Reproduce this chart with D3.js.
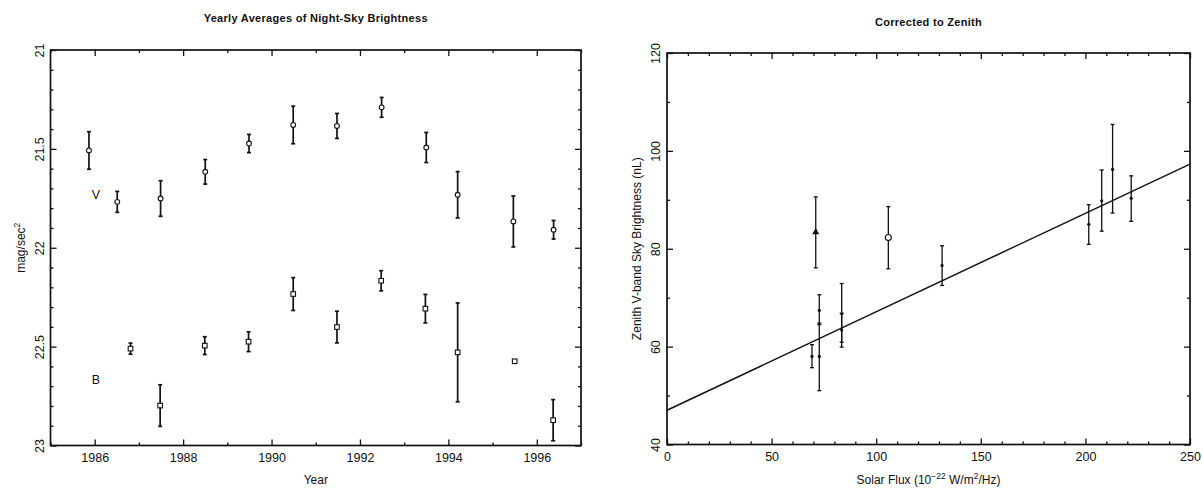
<!DOCTYPE html>
<html>
<head>
<meta charset="utf-8">
<script src="https://cdn.jsdelivr.net/npm/d3@7"></script>
<style>
  html, body { margin: 0; padding: 0; background: #fff; }
  svg { display: block; }
  text { font-family: "Liberation Sans", Arial, sans-serif; fill: #111; }
</style>
</head>
<body>
<svg id="chart" width="1203" height="488"></svg>
<script>
// Yearly averages (mag/sec^2) and their uncertainties
const vYear = [1985.87, 1986.51, 1987.49, 1988.50, 1989.49, 1990.49, 1991.48, 1992.49, 1993.50, 1994.21, 1995.47, 1996.38];
const vMag  = [21.508, 21.768, 21.751, 21.616, 21.473, 21.379, 21.384, 21.290, 21.493, 21.732, 21.867, 21.909];
const vErr  = [0.095, 0.053, 0.090, 0.062, 0.046, 0.095, 0.063, 0.050, 0.076, 0.117, 0.129, 0.047];

const bYear = [1986.81, 1987.48, 1988.49, 1989.48, 1990.49, 1991.48, 1992.48, 1993.48, 1994.21, 1995.50, 1996.37];
const bMag  = [22.510, 22.798, 22.495, 22.475, 22.234, 22.401, 22.167, 22.308, 22.529, 22.574, 22.872];
const bErr  = [0.028, 0.105, 0.045, 0.050, 0.083, 0.080, 0.051, 0.072, 0.250, 0, 0.104];

const yearTicks = [1986, 1988, 1990, 1992, 1994, 1996];
const magTicks = [21, 21.5, 22, 22.5, 23];

// Zenith-corrected V-band brightness (nL) against solar flux
const flux   = [69.3, 71.1, 72.8, 72.8, 83.5, 83.5, 105.8, 131.5, 201.6, 207.8, 213.0, 221.9];
const bright = [58.0, 83.4, 67.4, 58.0, 66.7, 63.4, 82.3, 76.6, 85.0, 89.8, 96.2, 90.3];
const brightLo = [55.7, 76.1, 64.5, 51.0, 60.9, 59.9, 75.9, 72.5, 80.9, 83.6, 87.3, 85.6];
const brightHi = [60.4, 90.6, 70.6, 64.8, 72.9, 66.8, 88.6, 80.6, 89.0, 96.1, 105.4, 94.9];
const marker = ["dot", "triangle", "dot", "dot", "dot", "dot", "circle", "dot", "dot", "dot", "dot", "dot"];

const fluxTicks = [0, 50, 100, 150, 200, 250];
const brightTicks = [40, 60, 80, 100, 120];

// Linear fit
const fitIntercept = 47.0;
const fitSlope = 0.2012;

const svg = d3.select("#chart");

// Draws a boxed frame with inward ticks on all four sides
function frame(g, x, y, xMajor, xMinor, yMajor, yMinor, xFmt, yFmt) {
  const [x0, x1] = x.range();
  const [y0, y1] = y.range(); // y0 bottom, y1 top
  const majorLen = 6, minorLen = 3;

  const bottom = g.append("g").attr("transform", `translate(0,${y0})`)
    .call(d3.axisBottom(x).tickValues(xMajor).tickSize(-majorLen).tickFormat(xFmt));
  bottom.selectAll(".tick text").attr("y", 16).attr("dy", 0);
  g.append("g").attr("transform", `translate(0,${y0})`)
    .call(d3.axisBottom(x).tickValues(xMinor).tickSize(-minorLen).tickFormat(""));
  g.append("g").attr("transform", `translate(0,${y1})`)
    .call(d3.axisTop(x).tickValues(xMajor).tickSize(-majorLen).tickFormat(""));
  g.append("g").attr("transform", `translate(0,${y1})`)
    .call(d3.axisTop(x).tickValues(xMinor).tickSize(-minorLen).tickFormat(""));

  const left = g.append("g").attr("transform", `translate(${x0},0)`)
    .call(d3.axisLeft(y).tickValues(yMajor).tickSize(-majorLen).tickFormat(yFmt));
  left.selectAll(".tick text")
    .attr("transform", "rotate(-90)")
    .attr("x", 0).attr("y", -7).attr("dy", 0)
    .attr("text-anchor", "middle");
  g.append("g").attr("transform", `translate(${x0},0)`)
    .call(d3.axisLeft(y).tickValues(yMinor).tickSize(-minorLen).tickFormat(""));
  g.append("g").attr("transform", `translate(${x1},0)`)
    .call(d3.axisRight(y).tickValues(yMajor).tickSize(-majorLen).tickFormat(""));
  g.append("g").attr("transform", `translate(${x1},0)`)
    .call(d3.axisRight(y).tickValues(yMinor).tickSize(-minorLen).tickFormat(""));

  g.selectAll(".domain").remove();
  g.selectAll(".tick line").attr("stroke", "#111").attr("stroke-width", 1.3);
  g.selectAll(".tick text").attr("font-size", 12.5).attr("fill", "#111")
    .attr("font-family", "'Liberation Sans', Arial, sans-serif");

  g.append("rect")
    .attr("x", x0).attr("y", y1)
    .attr("width", x1 - x0).attr("height", y0 - y1)
    .attr("fill", "none").attr("stroke", "#111").attr("stroke-width", 1.7);
}

function errorBar(g, cx, yLo, yHi, cap, width) {
  g.append("line").attr("x1", cx).attr("x2", cx).attr("y1", yLo).attr("y2", yHi)
    .attr("stroke", "#111").attr("stroke-width", width);
  [yLo, yHi].forEach(yy => g.append("line")
    .attr("x1", cx - cap).attr("x2", cx + cap).attr("y1", yy).attr("y2", yy)
    .attr("stroke", "#111").attr("stroke-width", width));
}

/* ---------- Left panel: yearly averages ---------- */
const xL = d3.scaleLinear().domain([1985, 1997]).range([50.5, 581]);
const yL = d3.scaleLinear().domain([23, 21]).range([445.5, 50]);
const gL = svg.append("g");

frame(gL, xL, yL,
  yearTicks, d3.range(1985, 1998, 1).filter(v => !yearTicks.includes(v)),
  magTicks, d3.range(210, 231, 1).map(v => v / 10).filter(v => !magTicks.includes(v)),
  d3.format("d"), d => String(d));

const gV = gL.append("g");
vYear.forEach((yr, i) => {
  const cx = xL(yr);
  if (vErr[i] > 0) errorBar(gV, cx, yL(vMag[i] - vErr[i]), yL(vMag[i] + vErr[i]), 2, 1.7);
  gV.append("circle").attr("cx", cx).attr("cy", yL(vMag[i])).attr("r", 2.4)
    .attr("fill", "#fff").attr("stroke", "#111").attr("stroke-width", 1.1);
});

const gB = gL.append("g");
bYear.forEach((yr, i) => {
  const cx = xL(yr);
  if (bErr[i] > 0) errorBar(gB, cx, yL(bMag[i] - bErr[i]), yL(bMag[i] + bErr[i]), 2, 1.7);
  gB.append("rect").attr("x", cx - 2.3).attr("y", yL(bMag[i]) - 2.3)
    .attr("width", 4.6).attr("height", 4.6)
    .attr("fill", "#fff").attr("stroke", "#111").attr("stroke-width", 1.1);
});

gL.append("text").attr("x", xL(1986.03)).attr("y", yL(21.73) + 4.5)
  .attr("text-anchor", "middle").attr("font-size", 12.5).text("V");
gL.append("text").attr("x", xL(1986.03)).attr("y", yL(22.665) + 4.5)
  .attr("text-anchor", "middle").attr("font-size", 12.5).text("B");

gL.append("text").attr("x", (xL.range()[0] + xL.range()[1]) / 2).attr("y", 22)
  .attr("text-anchor", "middle").attr("font-size", 11).attr("font-weight", "bold")
  .attr("letter-spacing", 0.3)
  .text("Yearly Averages of Night-Sky Brightness");
gL.append("text").attr("x", (xL.range()[0] + xL.range()[1]) / 2).attr("y", 484)
  .attr("text-anchor", "middle").attr("font-size", 12).text("Year");

const magLabel = gL.append("text")
  .attr("transform", `translate(25,${(yL.range()[0] + yL.range()[1]) / 2}) rotate(-90)`)
  .attr("text-anchor", "middle").attr("font-size", 12);
magLabel.append("tspan").text("mag/sec");
magLabel.append("tspan").attr("font-size", 8.5).attr("dy", -5).text("2");

/* ---------- Right panel: corrected to zenith ---------- */
const xR = d3.scaleLinear().domain([0, 250]).range([667, 1190]);
const yR = d3.scaleLinear().domain([40, 120]).range([444.5, 53]);
const gR = svg.append("g");

frame(gR, xR, yR,
  fluxTicks, d3.range(0, 251, 10).filter(v => !fluxTicks.includes(v)),
  brightTicks, d3.range(40, 121, 10).filter(v => !brightTicks.includes(v)),
  d3.format("d"), d3.format("d"));

// Fit line across the full flux range
const fitLine = d3.line().x(d => xR(d)).y(d => yR(fitIntercept + fitSlope * d));
gR.append("path").datum(xR.domain())
  .attr("d", fitLine).attr("fill", "none").attr("stroke", "#111").attr("stroke-width", 1.5);

const gP = gR.append("g");
flux.forEach((f, i) => {
  const cx = xR(f);
  errorBar(gP, cx, yR(brightLo[i]), yR(brightHi[i]), 2, 1.3);
  const cy = yR(bright[i]);
  if (marker[i] === "triangle") {
    gP.append("path").attr("transform", `translate(${cx},${cy})`)
      .attr("d", d3.symbol(d3.symbolTriangle, 22)).attr("fill", "#111");
  } else if (marker[i] === "circle") {
    gP.append("circle").attr("cx", cx).attr("cy", cy).attr("r", 3)
      .attr("fill", "#fff").attr("stroke", "#111").attr("stroke-width", 1.1);
  } else {
    gP.append("circle").attr("cx", cx).attr("cy", cy).attr("r", 1.6).attr("fill", "#111");
  }
});

gR.append("text").attr("x", (xR.range()[0] + xR.range()[1]) / 2).attr("y", 26)
  .attr("text-anchor", "middle").attr("font-size", 11).attr("font-weight", "bold")
  .attr("letter-spacing", 0.3)
  .text("Corrected to Zenith");

const fluxLabel = gR.append("text").attr("x", (xR.range()[0] + xR.range()[1]) / 2).attr("y", 484)
  .attr("text-anchor", "middle").attr("font-size", 12);
fluxLabel.append("tspan").text("Solar Flux (10");
fluxLabel.append("tspan").attr("font-size", 8.5).attr("dy", -5).text("\u221222");
fluxLabel.append("tspan").attr("dy", 5).text(" W/m");
fluxLabel.append("tspan").attr("font-size", 8.5).attr("dy", -5).text("2");
fluxLabel.append("tspan").attr("dy", 5).text("/Hz)");

gR.append("text")
  .attr("transform", `translate(641,${(yR.range()[0] + yR.range()[1]) / 2}) rotate(-90)`)
  .attr("text-anchor", "middle").attr("font-size", 12)
  .text("Zenith V-band Sky Brightness (nL)");
</script>
</body>
</html>
